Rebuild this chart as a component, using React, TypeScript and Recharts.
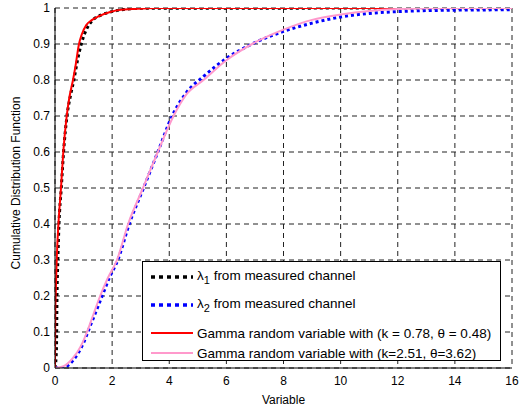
import { LineChart, Line, XAxis, YAxis, CartesianGrid, Legend } from 'recharts'

const lambda1X = [0, 0.05, 0.07, 0.1, 0.14, 0.22, 0.3, 0.42, 0.55, 0.66, 0.8, 0.92, 1.1, 1.3, 1.6, 2.0, 2.4, 3, 16]
const lambda1Y = [0, 0.05, 0.2, 0.3, 0.4, 0.5, 0.6, 0.7, 0.76, 0.8, 0.86, 0.9, 0.94, 0.965, 0.98, 0.99, 0.996, 0.999, 1]

const lambda2X = [0, 0.3, 0.5, 0.8, 1.0, 1.2, 1.4, 1.65, 1.9, 2.2, 2.6, 3.1, 3.6, 4.1, 4.6, 5.2, 6, 6.9, 8, 9, 10, 11, 12, 14, 16]
const lambda2Y = [0, 0, 0.01, 0.04, 0.07, 0.11, 0.15, 0.2, 0.25, 0.3, 0.4, 0.5, 0.6, 0.7, 0.765, 0.81, 0.86, 0.9, 0.935, 0.958, 0.975, 0.985, 0.99, 0.994, 0.995]

const gamma1X = [0, 0.01, 0.03, 0.06, 0.12, 0.21, 0.29, 0.41, 0.5, 0.63, 0.72, 0.84, 0.93, 1.1, 1.3, 1.5, 1.93, 2.3, 2.7, 3.5, 16]
const gamma1Y = [0, 0.15, 0.22, 0.3, 0.4, 0.5, 0.6, 0.7, 0.75, 0.8, 0.84, 0.9, 0.925, 0.953, 0.967, 0.976, 0.989, 0.995, 0.997, 1, 1]

const gamma2X = [0, 0.3, 0.6, 0.9, 1.12, 1.35, 1.58, 1.85, 2.17, 2.56, 3.08, 3.6, 4.15, 4.6, 5.2, 6, 6.9, 8, 9, 10, 11, 12, 14, 16]
const gamma2Y = [0, 0.005, 0.025, 0.06, 0.1, 0.15, 0.2, 0.25, 0.3, 0.4, 0.5, 0.6, 0.7, 0.76, 0.8, 0.855, 0.9, 0.94, 0.967, 0.982, 0.992, 0.997, 1, 1]

const xTicks = [0, 2, 4, 6, 8, 10, 12, 14, 16]
const yTicks = [0, 0.1, 0.2, 0.3, 0.4, 0.5, 0.6, 0.7, 0.8, 0.9, 1]

const toPoints = (xs: number[], ys: number[]) => xs.map((x, i) => ({ x, y: ys[i] }))

const font = '"Liberation Sans", Arial, Helvetica, sans-serif'

const legendRows = [
  { color: '#000000', dash: '4 4', width: 3.5, label: <>λ<sub style={{ fontSize: 11 }}>1</sub> from measured channel</>, top: 7 },
  { color: '#0000ff', dash: '4 4', width: 3.5, label: <>λ<sub style={{ fontSize: 11 }}>2</sub> from measured channel</>, top: 35 },
  { color: '#ff0000', dash: undefined, width: 2, label: <>Gamma random variable with (k = 0.78, θ = 0.48)</>, top: 63 },
  { color: '#ff99cc', dash: undefined, width: 2, label: <>Gamma random variable with (k=2.51, θ=3.62)</>, top: 83 },
]

function LegendBox() {
  return (
    <div style={{ position: 'relative', width: 359, height: 100, border: '1px solid #000', boxSizing: 'border-box', background: '#fff', fontFamily: font, fontSize: 13.5, color: '#000' }}>
      {legendRows.map((r, i) => (
        <div key={i} style={{ position: 'absolute', left: 0, top: r.top, height: 16, display: 'flex', alignItems: 'center', whiteSpace: 'nowrap' }}>
          <svg width={52} height={16} style={{ display: 'block' }}>
            <line x1={8} x2={50} y1={8} y2={8} stroke={r.color} strokeWidth={r.width} strokeDasharray={r.dash} />
          </svg>
          <span style={{ marginLeft: 2 }}>{r.label}</span>
        </div>
      ))}
    </div>
  )
}

export default function App() {
  return (
    <div style={{ position: 'absolute', left: 0, top: 0, background: '#fff' }}>
      <LineChart width={519} height={411} margin={{ top: 8, right: 7, left: 0, bottom: 0 }}>
        <CartesianGrid stroke="#222" strokeDasharray="5 4" horizontalValues={yTicks} verticalValues={xTicks} />
        <XAxis
          type="number"
          dataKey="x"
          domain={[0, 16]}
          ticks={xTicks}
          allowDataOverflow
          height={43}
          tickLine={false}
          axisLine={{ stroke: '#000' }}
          tick={{ fill: '#000', fontSize: 12, fontFamily: font }}
          label={{ value: 'Variable', position: 'insideBottom', offset: 7, style: { fill: '#000', fontSize: 12, fontFamily: font } }}
        />
        <XAxis xAxisId="top" orientation="top" type="number" dataKey="x" domain={[0, 16]} height={0} tick={false} tickLine={false} axisLine={{ stroke: '#000' }} />
        <YAxis
          type="number"
          domain={[0, 1]}
          ticks={yTicks}
          allowDataOverflow
          width={55}
          tickLine={false}
          tickSize={5}
          tickMargin={0}
          axisLine={{ stroke: '#000' }}
          tick={{ fill: '#000', fontSize: 12, fontFamily: font }}
          label={{ value: 'Cumulative Distribution Function', angle: -90, position: 'insideLeft', offset: 16, dy: -5, style: { fill: '#000', fontSize: 12, fontFamily: font, textAnchor: 'middle' } }}
        />
        <YAxis yAxisId="right" orientation="right" domain={[0, 1]} width={0} tick={false} tickLine={false} axisLine={{ stroke: '#000' }} />
        <Line data={toPoints(lambda1X, lambda1Y)} dataKey="y" type="monotone" stroke="#000" strokeWidth={3} strokeDasharray="3 3" dot={false} isAnimationActive={false} />
        <Line data={toPoints(lambda2X, lambda2Y)} dataKey="y" type="monotone" stroke="#0000ff" strokeWidth={3} strokeDasharray="3 3" dot={false} isAnimationActive={false} />
        <Line data={toPoints(gamma1X, gamma1Y)} dataKey="y" type="monotone" stroke="#ff0000" strokeWidth={2} dot={false} isAnimationActive={false} />
        <Line data={toPoints(gamma2X, gamma2Y)} dataKey="y" type="monotone" stroke="#ff99cc" strokeWidth={2} dot={false} isAnimationActive={false} />
        <Legend layout="horizontal" verticalAlign="middle" align="center" content={<LegendBox />} wrapperStyle={{ left: 142, top: 261, width: 359, height: 100 }} />
      </LineChart>
    </div>
  )
}
